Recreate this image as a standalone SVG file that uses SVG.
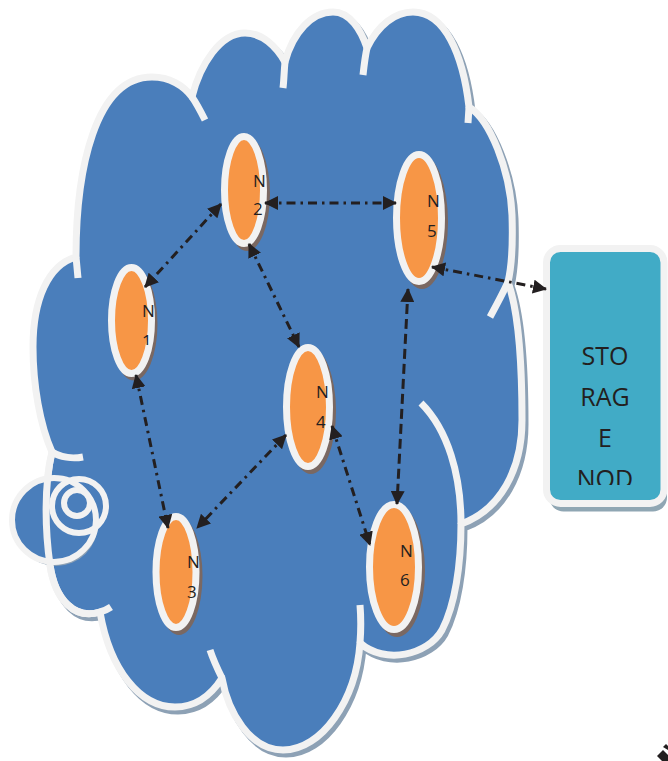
<svg xmlns="http://www.w3.org/2000/svg" width="668" height="761" viewBox="0 0 668 761">
<style>
.cl{fill:#4a7ebb;stroke:#f2f2f2;stroke-width:7;stroke-linejoin:round}
.clsh{fill:#8da1b5;stroke:#8da1b5;stroke-width:7}
.inner{fill:none;stroke:#f2f2f2;stroke-width:7;stroke-linecap:butt}
.ring{fill:none;stroke:#f2f2f2;stroke-width:6}
.nd{fill:#f79646;stroke:#f2f2f2;stroke-width:7}
.ndsh{fill:#7a6862}
.lbl{font-family:"Open Sans","Liberation Sans",sans-serif;font-size:17px;fill:#231f20}
.st{font-family:"Open Sans","Liberation Sans",sans-serif;font-size:25px;fill:#231f20;text-anchor:middle}
.dd{fill:none;stroke:#231f20;stroke-width:3;stroke-dasharray:9 5 2.5 5;marker-start:url(#ah);marker-end:url(#ah)}
.ds{fill:none;stroke:#231f20;stroke-width:3;stroke-dasharray:10 5;marker-start:url(#ah);marker-end:url(#ah)}
</style>
<defs>
<marker id="ah" viewBox="0 0 14 14" refX="13" refY="7" markerWidth="14" markerHeight="14" markerUnits="userSpaceOnUse" orient="auto-start-reverse">
<path d="M0,0 L14,7 L0,14 Z" fill="#231f20"/>
</marker>
<path id="cloudOutline" d="M76,257 C76,170 95,77 152,77 C170,77 184,86 192,97 C200,65 220,33 245,33 C262,33 276,46 285,62 C293,32 312,12 333,12 C350,12 361,30 367,48 C378,25 395,12 413,12 C445,12 463,55 469,107 C490,120 510,170 512,215 C513,245 512,265 508,282 C518,310 522,360 522,420 C522,470 500,510 461,524 C461,565 455,605 442,630 C428,655 385,665 360,643 C356,700 322,750 283,750 C250,750 228,712 222,678 C210,697 195,707 175,707 C140,707 110,670 100,612 C75,620 55,600 50,565 C45,530 44,485 52,452 C40,425 33,385 33,347 C33,300 48,265 76,257 Z"/>
<clipPath id="stclip"><rect x="550" y="253" width="111" height="232"/></clipPath>
<clipPath id="n1clip"><rect x="100" y="260" width="70" height="85"/></clipPath>
</defs>

<g id="cloud">
<use href="#cloudOutline" class="clsh" transform="translate(3,4)"/>
<use href="#cloudOutline" class="cl"/>
<path class="inner" d="M76,257 L78,278"/>
<path class="inner" d="M192,97 C197,104 201,112 205,120"/>
<path class="inner" d="M285,62 C284,72 284,80 283,88"/>
<path class="inner" d="M367,48 C365,57 364,66 363,75"/>
<path class="inner" d="M469,107 L468,123"/>
<path class="inner" d="M508,282 C502,295 496,306 490,317"/>
<path class="inner" d="M461,524 C461,475 448,430 421,403"/>
<path class="inner" d="M360,643 C361,630 361,617 360,605"/>
<path class="inner" d="M222,678 C217,668 213,659 210,650"/>
<path class="inner" d="M100,612 C104,611 108,609 111,607"/>
<path class="inner" d="M52,452 C60,457 72,459 83,457"/>
<circle cx="56" cy="524" r="42" fill="#8da1b5"/>
<circle cx="54" cy="520" r="42" fill="#4a7ebb" stroke="#f2f2f2" stroke-width="6"/>
<circle class="ring" cx="79" cy="506" r="27"/>
<circle class="ring" cx="77" cy="503" r="13"/>
<path class="inner" stroke-width="6" d="M100,612 C75,620 55,600 50,565 C45,530 44,485 52,452"/>
</g>

<g id="storage">
<rect x="549.5" y="256.5" width="117.5" height="255" rx="14" fill="#8fa6b3"/>
<rect x="546.5" y="248.5" width="117.5" height="255" rx="14" fill="#41abc6" stroke="#f2f2f2" stroke-width="7"/>
<g clip-path="url(#stclip)">
<text class="st" x="605" y="365">STO</text>
<text class="st" x="605" y="406">RAG</text>
<text class="st" x="605" y="447">E</text>
<text class="st" x="605" y="488">NOD</text>
</g>
</g>

<g id="n2">
<ellipse class="ndsh" cx="247" cy="194" rx="23" ry="57"/>
<ellipse class="nd" cx="244" cy="190" rx="19.5" ry="53.5"/>
<text class="lbl" x="253" y="187">N</text>
<text class="lbl" x="253" y="215">2</text>
</g>
<g id="n5">
<ellipse class="ndsh" cx="422" cy="222" rx="26" ry="67"/>
<ellipse class="nd" cx="419" cy="218" rx="22.5" ry="63.5"/>
<text class="lbl" x="427" y="207">N</text>
<text class="lbl" x="427" y="237">5</text>
</g>
<g id="n1">
<ellipse class="ndsh" cx="134" cy="324" rx="23.5" ry="56.5"/>
<ellipse class="nd" cx="131.5" cy="320.5" rx="20" ry="53"/>
<text class="lbl" x="142" y="317">N</text>
<text class="lbl" x="142" y="347" clip-path="url(#n1clip)">1</text>
</g>
<g id="n4">
<ellipse class="ndsh" cx="311" cy="411" rx="25" ry="63"/>
<ellipse class="nd" cx="308" cy="407" rx="21.5" ry="59.5"/>
<text class="lbl" x="316" y="398">N</text>
<text class="lbl" x="316" y="428">4</text>
</g>
<g id="n3">
<ellipse class="ndsh" cx="179" cy="576" rx="23.5" ry="59"/>
<ellipse class="nd" cx="176" cy="572" rx="20" ry="55.5"/>
<text class="lbl" x="187" y="568">N</text>
<text class="lbl" x="187" y="598">3</text>
</g>
<g id="n6">
<ellipse class="ndsh" cx="397" cy="571" rx="28" ry="66"/>
<ellipse class="nd" cx="394" cy="567" rx="24.5" ry="62.5"/>
<text class="lbl" x="400" y="557">N</text>
<text class="lbl" x="400" y="586">6</text>
</g>

<g id="connectors">
<path class="dd" d="M265,203 L396,203"/>
<path class="dd" d="M221,204 L145,287"/>
<path class="dd" d="M249,244 L299,347"/>
<path class="dd" d="M136,375 L168,528"/>
<path class="dd" d="M286,435 L197,528"/>
<path class="dd" d="M332,426 L370,545"/>
<path class="ds" d="M408,289 L397,504"/>
<path class="dd" d="M432,267 L546,289"/>
</g>

<g id="corner">
<polygon points="657,756 663,750 668,755 668,761 662,761" fill="#231f20"/>
<polygon points="663,747 666,744 668,746 668,750" fill="#231f20"/>
</g>
</svg>
